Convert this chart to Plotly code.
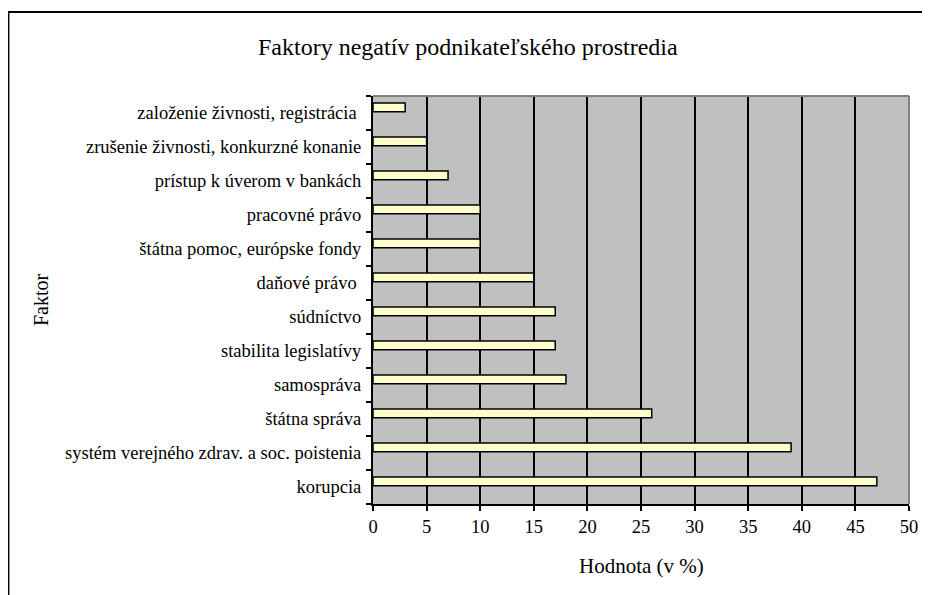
import plotly.graph_objects as go

# Data (bottom to top)
factors = [
    "korupcia",
    "systém verejného zdrav. a soc. poistenia",
    "štátna správa",
    "samospráva",
    "stabilita legislatívy",
    "súdníctvo",
    "daňové právo ",
    "štátna pomoc, európske fondy",
    "pracovné právo",
    "prístup k úverom v bankách",
    "zrušenie živnosti, konkurzné konanie",
    "založenie živnosti, registrácia ",
]
values = [47, 39, 26, 18, 17, 17, 15, 10, 10, 7, 5, 3]
x_ticks = [0, 5, 10, 15, 20, 25, 30, 35, 40, 45, 50]

# page offset (browser body margin) compensation
OFF = 8
W, H = 930 - OFF, 595 - OFF
L, R, T, B = 373 - OFF, 16, 96 - OFF, 91
pw, ph = W - L - R, H - T - B

def px_x(p):
    return (p - OFF - L) / pw

def px_y(p):
    return (H - B - (p - OFF)) / ph

font_family = "Liberation Serif, Times New Roman, serif"

fig = go.Figure()
fig.add_trace(go.Bar(
    y=factors,
    x=values,
    orientation="h",
    width=0.26,
    offset=0.035,
    marker=dict(color="#FFFFCC", line=dict(color="black", width=1.5)),
    hoverinfo="x+y",
))

fig.update_layout(
    width=W, height=H,
    margin=dict(l=L, r=R, t=T, b=B, pad=0),
    paper_bgcolor="white",
    plot_bgcolor="#C0C0C0",
    showlegend=False,
    font=dict(family=font_family, size=18.5, color="black"),
    xaxis=dict(
        range=[0, 50],
        tickvals=x_ticks,
        ticktext=[str(v) for v in x_ticks],
        showgrid=True, gridcolor="black", gridwidth=1.5,
        showline=True, linecolor="black", linewidth=2,
        ticks="outside", ticklen=5, tickcolor="black", tickwidth=1.5,
        zeroline=False,
        tickfont=dict(family=font_family, size=18.5),
        fixedrange=True,
    ),
    yaxis=dict(
        type="category",
        categoryorder="array", categoryarray=factors,
        range=[-0.5, len(factors) - 0.5],
        showgrid=False,
        showline=True, linecolor="black", linewidth=2,
        ticks="outside", ticklen=5, tickcolor="black", tickwidth=1.5,
        tickson="boundaries",
        ticklabelstandoff=6,
        tickfont=dict(family=font_family, size=18.5),
        fixedrange=True,
    ),
    shapes=[
        # outer chart border
        dict(type="rect", xref="paper", yref="paper",
             x0=px_x(5), x1=px_x(945), y0=px_y(610), y1=px_y(12),
             line=dict(color="black", width=2), fillcolor="rgba(0,0,0,0)", layer="above"),
        # plot area top and right border (gray)
        dict(type="line", xref="paper", yref="paper", x0=0, x1=1, y0=1, y1=1,
             line=dict(color="#808080", width=2), layer="above"),
        dict(type="line", xref="paper", yref="paper", x0=1, x1=1, y0=0, y1=1,
             line=dict(color="#808080", width=2), layer="above"),
    ],
    annotations=[
        dict(text="Faktory negatív podnikateľského prostredia",
             xref="paper", yref="paper", x=px_x(469), y=px_y(47),
             xanchor="center", yanchor="middle", showarrow=False,
             font=dict(family=font_family, size=24)),
        dict(text="Hodnota (v %)",
             xref="paper", yref="paper", x=0.5, y=px_y(566),
             xanchor="center", yanchor="middle", showarrow=False,
             font=dict(family=font_family, size=21)),
        dict(text="Faktor",
             xref="paper", yref="paper", x=px_x(38), y=0.5,
             xanchor="center", yanchor="middle", showarrow=False, textangle=-90,
             font=dict(family=font_family, size=20)),
    ],
)

fig.write_html("out.html")
